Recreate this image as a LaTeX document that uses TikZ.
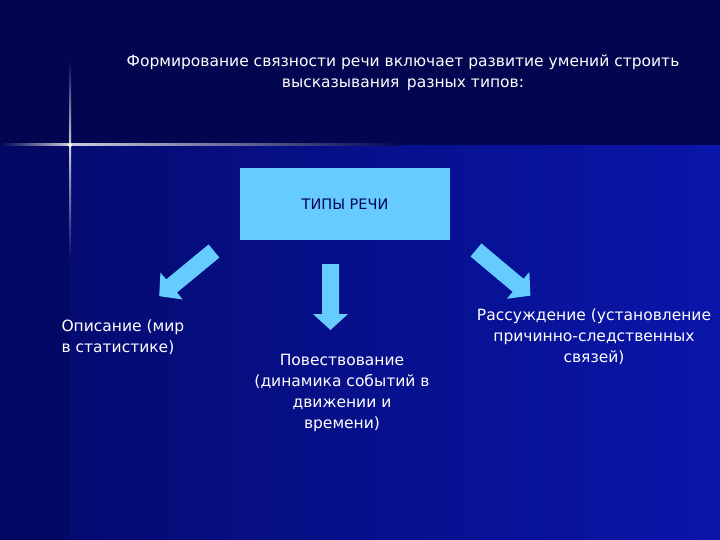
\documentclass[tikz,border=0pt]{standalone}
\usepackage{fontspec}
\setmainfont{DejaVu Sans}
\definecolor{navytop}{RGB}{2,6,80}
\definecolor{navyleft}{RGB}{3,8,100}
\definecolor{bluelow}{RGB}{10,22,170}
\definecolor{boxblue}{RGB}{102,204,255}
\tikzset{
  x=1pt, y=-1pt,
  typebox/.style={fill=boxblue, minimum width=210pt, minimum height=72pt, inner sep=0pt, font=\fontsize{14.5}{17}\selectfont, text=navytop},
  caption/.style={text=white, font=\fontsize{15.5}{21}\selectfont, align=center},
  % block arrow, drawn along local x
  blockarrow/.pic={
    \fill[boxblue] (0,-8.5) -- (#1-16,-8.5) -- (#1-16,-17.5) -- (#1,0)
      -- (#1-16,17.5) -- (#1-16,8.5) -- (0,8.5) -- cycle;
  }
}
\begin{document}
\begin{tikzpicture}
  % background
  \fill[navyleft] (0,0) rectangle (720,540);
  \shade[left color=navyleft!80!bluelow, right color=bluelow] (70,145) rectangle (720,540);
  \fill[navytop] (0,0) rectangle (720,145);
  % sparkle
  \shade[left color=navytop, right color=white, opacity=.8] (0,144) rectangle (70,146);
  \shade[left color=white, right color=navytop, opacity=.8] (70,144) rectangle (400,146);
  \shade[top color=navytop, bottom color=white, opacity=.8] (69,60) rectangle (71,145);
  \shade[top color=white, bottom color=navyleft, opacity=.8] (69,145) rectangle (71,260);
  \fill[white] (70,145) circle (2pt);

  \node[caption] (title) at (403,73) {Формирование связности речи включает развитие умений строить\\высказывания\, разных типов:};
  \node[typebox] (types) at (345,204) {ТИПЫ РЕЧИ};

  \pic[rotate=-90] (adown) at (330.5,264) {blockarrow=66};
  \pic[rotate=-140.5] (aleft) at (214,251) {blockarrow=71};
  \pic[rotate=-40] (aright) at (476,250) {blockarrow=71};

  \node[caption, align=left, anchor=north west] (descr) at (58,316) {Описание (мир\\в статистике)};
  \node[caption, anchor=north] (narr) at (342,351) {Повествование\\(динамика событий в\\движении и\\времени)};
  \node[caption, anchor=north] (reason) at (594,305) {Рассуждение (установление\\причинно-следственных\\связей)};
\end{tikzpicture}
\end{document}
